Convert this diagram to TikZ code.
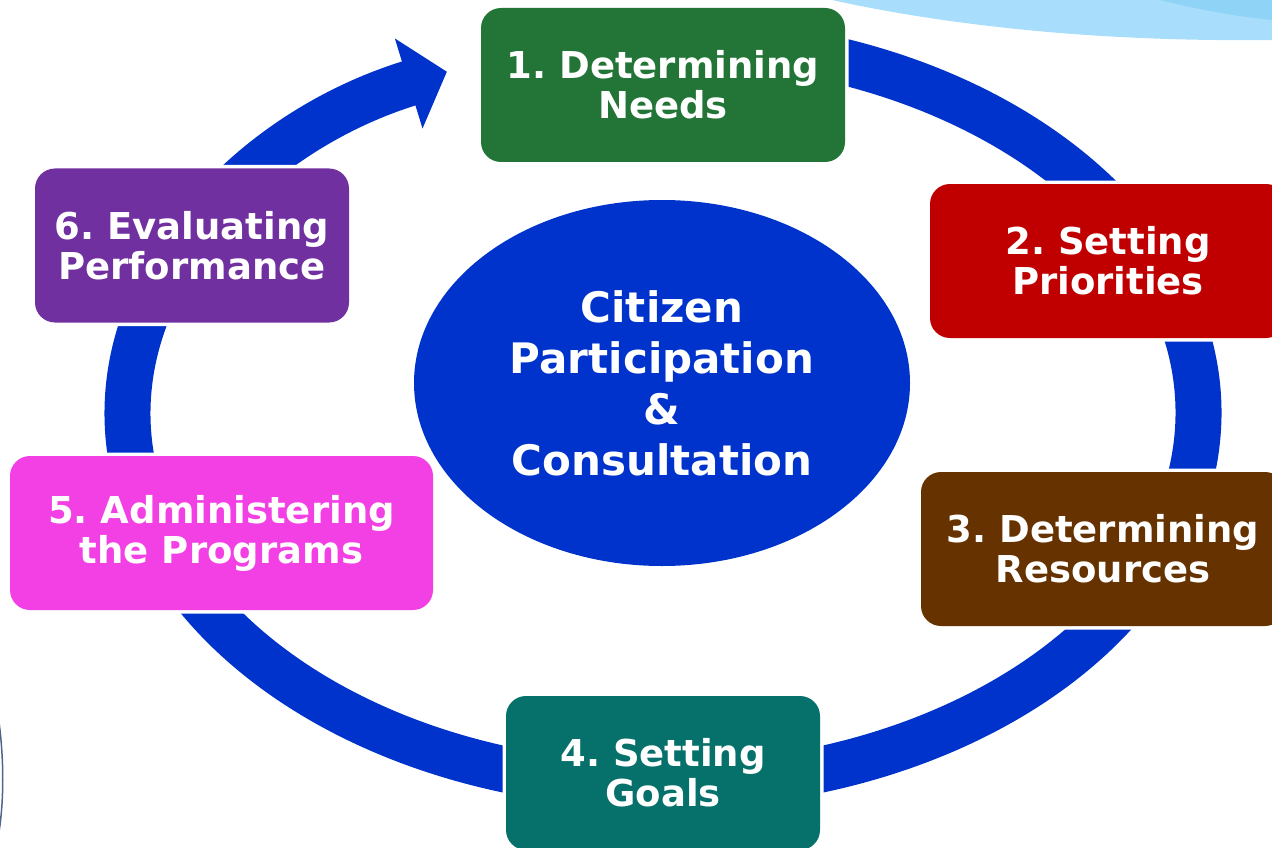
\documentclass[tikz,border=0pt]{standalone}
\usepackage{fontspec}
\setsansfont{DejaVu Sans}
\usetikzlibrary{arrows.meta,shapes.geometric}
\definecolor{ringblue}{RGB}{0,51,204}
\definecolor{needsgreen}{RGB}{34,117,55}
\definecolor{prioritiesred}{RGB}{192,0,0}
\definecolor{resourcesbrown}{RGB}{102,51,0}
\definecolor{goalsteal}{RGB}{6,112,106}
\definecolor{programsmagenta}{RGB}{242,64,228}
\definecolor{performancepurple}{RGB}{112,48,160}
\definecolor{skylight}{RGB}{168,222,251}
\definecolor{skydark}{RGB}{143,211,247}
\definecolor{rimgray}{RGB}{80,100,140}
\tikzstyle{stage}=[
	rectangle,
	rounded corners=20pt,
	inner sep=0pt,
	align=center,
	text=white,
	font=\sffamily\bfseries\fontsize{37}{40}\selectfont,
	minimum height=154pt,
	preaction={draw=white,line width=7pt}
]
\tikzstyle{hub}=[
	ellipse,
	fill=ringblue,
	inner sep=0pt,
	align=center,
	text=white,
	font=\sffamily\bfseries\fontsize{42}{51}\selectfont,
	minimum width=496pt,
	minimum height=366pt
]
\tikzstyle{cycleband}=[
	draw=ringblue,
	line width=46pt,
	-{Triangle[width=92pt,length=40pt]}
]
\frenchspacing

\begin{document}
\begin{tikzpicture}[x=1pt,y=-1pt]
\useasboundingbox (0,0) rectangle (1272,848);
% background swoosh
\fill[skylight] (832,0) .. controls (950,26) and (1100,42) .. (1272,40) -- (1272,0) -- cycle;
\fill[skydark] (1160,0) .. controls (1200,10) and (1240,17) .. (1272,20) -- (1272,0) -- cycle;
\draw[rimgray,line width=1.5pt] (-1,722) .. controls (4,760) and (4,800) .. (-1,832);
% ring
\draw[cycleband] (663,413) ++(275:535.5 and 373) arc[start angle=275,end angle=606.2,x radius=535.5,y radius=373];
% stages
\node [stage,fill=needsgreen,minimum width=364pt] (needs) at (663,85) {1. Determining\\Needs};
\node [stage,fill=prioritiesred,minimum width=356pt] (priorities) at (1108,261) {2. Setting\\Priorities};
\node [stage,fill=resourcesbrown,minimum width=364pt] (resources) at (1103,549) {3. Determining\\Resources};
\node [stage,fill=goalsteal,minimum width=314pt] (goals) at (663,773) {4. Setting\\Goals};
\node [stage,fill=programsmagenta,minimum width=423pt] (programs) at (221.5,533) {5. Administering\\the Programs};
\node [stage,fill=performancepurple,minimum width=314pt] (performance) at (192,245.5) {6. Evaluating\\Performance};
\node [hub] (citizen) at (662,383) {Citizen\\Participation\\\&\\Consultation};
\end{tikzpicture}
\end{document}
